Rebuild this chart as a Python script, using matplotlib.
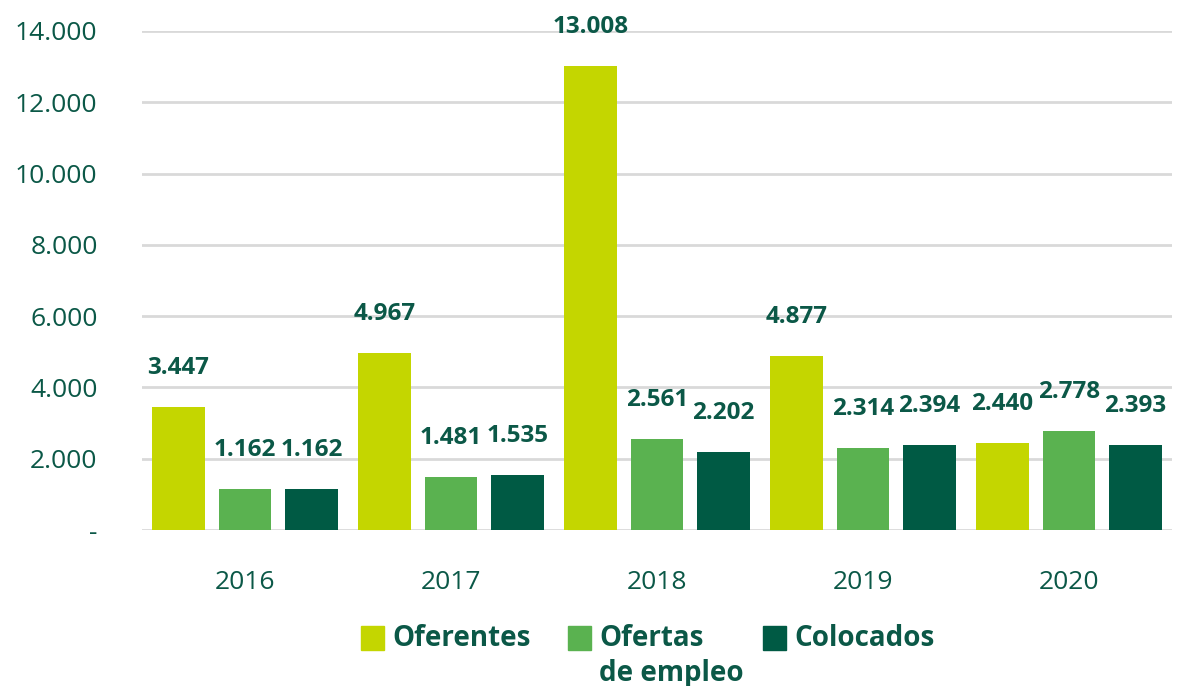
import matplotlib.pyplot as plt
import numpy as np
from matplotlib.ticker import FuncFormatter
from matplotlib.patches import Rectangle

years = ['2016', '2017', '2018', '2019', '2020']
oferentes = [3447, 4967, 13008, 4877, 2440]
ofertas = [1162, 1481, 2561, 2314, 2778]
colocados = [1162, 1535, 2202, 2394, 2393]

series_names = ['Oferentes', 'Ofertas\nde empleo', 'Colocados']
colors = ['#c4d600', '#5ab250', '#005a44']
text_color = '#0b5847'

plt.rcParams['font.family'] = ['Open Sans', 'DejaVu Sans']

W, H = 1179, 686
fig = plt.figure(figsize=(W / 100, H / 100), dpi=100)
ax = fig.add_axes([142 / W, 1 - 530 / H, 1030 / W, 499 / H])

x = np.arange(len(years))
width = 0.257
step = 0.323

for i, (vals, name, c) in enumerate(zip([oferentes, ofertas, colocados], series_names, colors)):
    pos = x + (i - 1) * step
    ax.bar(pos, vals, width=width, color=c, label=name, zorder=3)
    for xp, v in zip(pos, vals):
        ax.annotate(f'{v:,}'.replace(',', '.'), (xp, v), textcoords='offset points',
                    xytext=(0, 28), ha='center', va='center',
                    fontsize=17.5, fontweight='bold', color=text_color, zorder=4)

ax.set_xlim(-0.5, 4.5)
ax.set_ylim(0, 14000)
ax.set_yticks(range(0, 14001, 2000))
ax.yaxis.set_major_formatter(FuncFormatter(lambda v, p: '-' if v == 0 else f'{int(v):,}'.replace(',', '.')))
ax.set_xticks(x)
ax.set_xticklabels(years)
ax.tick_params(axis='both', length=0, labelsize=19, colors=text_color)
ax.tick_params(axis='y', pad=32)
ax.tick_params(axis='x', pad=29)
ax.grid(axis='y', color='#d9d9d9', linewidth=2, zorder=0)
for s in ax.spines.values():
    s.set_visible(False)

# legend drawn by hand so the two-line label keeps its square on the first line
sq_x = [361, 568, 763]
for sx, name, c in zip(sq_x, series_names, colors):
    fig.add_artist(Rectangle((sx / W, 1 - 650 / H), 23 / W, 24 / H, color=c,
                             transform=fig.transFigure))
    fig.text((sx + 31) / W, 1 - 624 / H, name, ha='left', va='top', fontsize=20,
             fontweight='bold', color=text_color, linespacing=1.25)

fig.savefig('out.png', dpi=100)
